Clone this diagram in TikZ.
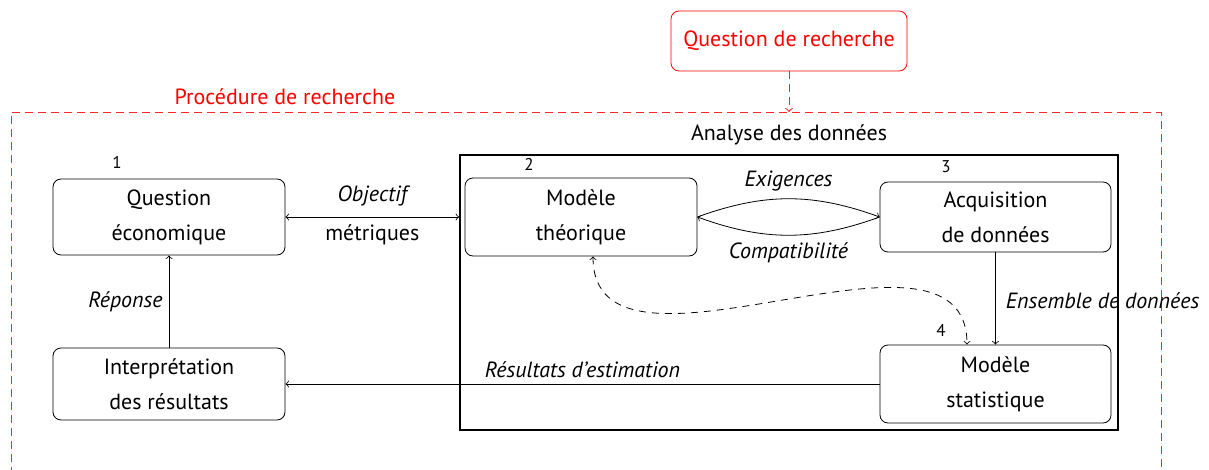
\documentclass[tikz,border=0pt]{standalone}
\usepackage{fontspec}
\setmainfont{PT Sans}
\begin{document}
\begin{tikzpicture}[x=0.5pt,y=-0.5pt,
  box/.style={draw, rounded corners=4pt, minimum width=116pt, align=center, inner sep=0pt, font=\fontsize{11}{17.5}\selectfont},
  lbl/.style={font=\fontsize{11}{13}\selectfont, inner sep=1pt},
  num/.style={font=\fontsize{8.5}{9}\selectfont, inner sep=0pt},
  reddash/.style={draw=red!85, dash pattern=on 4pt off 2.5pt, line width=0.5pt},
  arr/.style={->, line width=0.4pt},
  every node/.style={line width=0.4pt}
]
\clip (0,0) rectangle (1209,470);
% outer dashed frame
\node[reddash, minimum width=575pt, minimum height=200pt, anchor=north, inner sep=0pt] (proc) at (586,112) {};
\node[lbl, text=red] (proctitle) at (285,97) {Procédure de recherche};
% top question
\node[box, draw=red, text=red, minimum width=118pt, minimum height=30pt] (top) at (789,41) {Question de recherche};
\draw[reddash, ->] (top.south) -- (top.south |- proc.north);
% analysis frame
\node[draw, line width=0.8pt, minimum width=329pt, minimum height=137.5pt, inner sep=0pt] (ana) at (789,292.5) {};
\node[lbl] (anatitle) at (789,135) {Analyse des données};
% boxes
\node[box, minimum height=38pt] (b1) at (169,217) {Question\\économique};
\node[box, minimum height=39pt] (b2) at (581,217) {Modèle\\théorique};
\node[box, minimum width=115.5pt, minimum height=35pt] (b3) at (995.5,217) {Acquisition\\de données};
\node[box, minimum width=115.5pt, minimum height=39pt] (b4) at (995.5,384) {Modèle\\statistique};
\node[box, minimum height=36pt] (b5) at (169,384) {Interprétation\\des résultats};
% numbers
\node[num] (n1) at (117,162) {1};
\node[num] (n2) at (529,164) {2};
\node[num] (n3) at (946,167) {3};
\node[num] (n4) at (941,330) {4};
% connectors
\draw[<->, line width=0.4pt] (b1.east) -- (b1.east -| ana.west)
  node[lbl, midway, yshift=10.5pt] {\itshape Objectif}
  node[lbl, midway, yshift=-9pt] {métriques};
\draw[arr] (b2.east) to[bend left=20] node[lbl, midway, yshift=9pt] {\itshape Exigences} (b3.west);
\draw[arr] (b3.west) to[bend left=20] node[lbl, midway, yshift=-9pt] {\itshape Compatibilité} (b2.east);
\draw[arr] (b3.south) -- (b3.south |- b4.north)
  node[lbl, midway, anchor=west, xshift=4pt, yshift=-1pt] {\itshape Ensemble de données};
\draw[arr] (b4.west) -- (b4.west -| b5.east)
  node[lbl, midway, yshift=7pt] {\itshape Résultats d’estimation};
\draw[arr] (b5.north) -- (b1.south)
  node[lbl, midway, anchor=east, xshift=-2pt] {\itshape Réponse};
\coordinate (d2) at ([xshift=6pt]b2.south);
\coordinate (d4) at ([xshift=-14.25pt]b4.north);
\draw[<->, dash pattern=on 3.5pt off 3pt, line width=0.4pt] (d2) .. controls +(0,150) and +(0,-150) .. (d4);
\end{tikzpicture}
\end{document}
